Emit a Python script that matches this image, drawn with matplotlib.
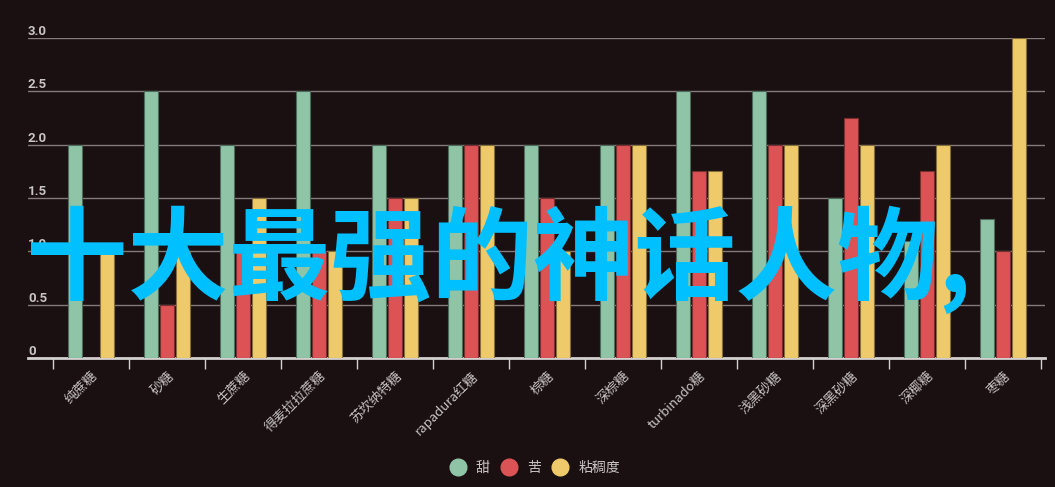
import numpy as np
import matplotlib
matplotlib.use("Agg")
import matplotlib.pyplot as plt
from matplotlib.lines import Line2D

plt.rcParams['font.family'] = ['Noto Sans CJK SC', 'DejaVu Sans']

categories = ['纯蔗糖', '砂糖', '生蔗糖', '得麦拉拉蔗糖', '苏坎纳特糖', 'rapadura红糖', '棕糖',
              '深棕糖', 'turbinado糖', '浅黑砂糖', '深黑砂糖', '深椰糖', '枣糖']
sweet = [2.0, 2.5, 2.0, 2.5, 2.0, 2.0, 2.0, 2.0, 2.5, 2.5, 1.5, 1.1, 1.3]
bitter = [0.0, 0.5, 1.0, 1.0, 1.5, 2.0, 1.5, 2.0, 1.75, 2.0, 2.25, 1.75, 1.0]
thick = [1.0, 1.0, 1.5, 1.0, 1.5, 2.0, 1.0, 2.0, 1.75, 2.0, 2.0, 2.0, 3.0]
series_names = ['甜', '苦', '粘稠度']
yticks = [0, 0.5, 1.0, 1.5, 2.0, 2.5, 3.0]
title = '十大最强的神话人物,'

bg = '#1b1011'
colors = ['#8fc4a7', '#dc5356', '#efca6a']
edges = ['#4e6b5c', '#7a2e30', '#84703a']

fig = plt.figure(figsize=(10.55, 4.87), dpi=100, facecolor=bg)
ax = fig.add_axes([28/1055, 1-358/487, (1045-28)/1055, (358-38)/487])
ax.set_facecolor(bg)

x = np.arange(len(categories))
w = 0.185
offs = [-0.21, 0, 0.21]
for vals, off, c, e in zip([sweet, bitter, thick], offs, colors, edges):
    ax.bar(x + off, vals, width=w, color=c, edgecolor=e, linewidth=0.8, zorder=3)

ax.set_ylim(0, 3.0)
ax.set_xlim(-0.83, 12.55)

for t in yticks:
    if t > 0:
        ax.axhline(t, color='#847a7a', lw=1, zorder=1)
    lab = '0' if t == 0 else f'{t:.1f}'
    ax.text(0, t, lab, transform=ax.get_yaxis_transform(), ha='left', va='bottom',
            fontsize=9.5, color='#c8c4c4', fontweight='bold', family=['Roboto', 'DejaVu Sans'])
ax.set_yticks([])

for s in ['top', 'right', 'left']:
    ax.spines[s].set_visible(False)
ax.spines['bottom'].set_color('#d4d0d0')
ax.spines['bottom'].set_linewidth(2)

ax.set_xticks(x)
ax.set_xticklabels(categories, rotation=45, ha='right', rotation_mode='anchor',
                   fontsize=9.5, color='#c8c4c4')
ax.tick_params(axis='x', which='major', length=0, pad=8)
ax.set_xticks(np.arange(-0.5, len(categories), 1), minor=True)
ax.tick_params(axis='x', which='minor', length=8, width=1, color='#d4d0d0')

handles = [Line2D([], [], marker='o', ls='', markersize=12, markerfacecolor=c,
                  markeredgecolor=c) for c in colors]
fig.legend(handles, series_names, loc='center', bbox_to_anchor=(532/1055, 1-468/487),
           ncol=3, frameon=False, fontsize=10, labelcolor='#c8c4c4',
           handletextpad=0.3, columnspacing=0.4)

fig.text(26/1055, 1-260/487, title, ha='left', va='center', fontsize=73,
         fontweight='bold', color='#00c0ff')

fig.savefig('out.png', dpi=100, facecolor=bg)
